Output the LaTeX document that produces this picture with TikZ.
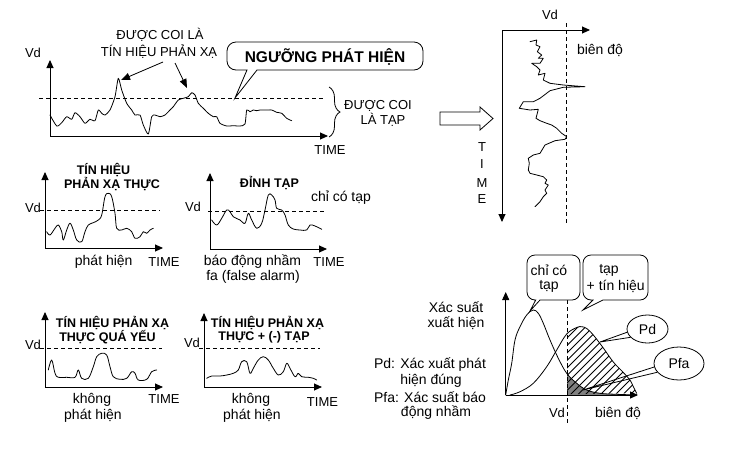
\documentclass[tikz,border=0pt]{standalone}
\usepackage{fontspec}
\setmainfont{Liberation Sans}
\usetikzlibrary{arrows.meta,shapes.geometric,decorations.pathreplacing}
\begin{document}
\begin{tikzpicture}[x=1pt,y=-1pt,
  ax/.style={line width=0.9pt,-{Triangle[length=8pt,width=7pt]}},
  thr/.style={line width=0.7pt,dash pattern=on 4pt off 3pt},
  sig/.style={line width=0.8pt,line join=round,line cap=round},
  lbl/.style={inner sep=0pt,font=\fontsize{14}{16}\selectfont},
  ulbl/.style={inner sep=0pt,font=\fontsize{13}{15}\selectfont},
  ttl/.style={inner sep=0pt,font=\bfseries\fontsize{12.5}{14}\selectfont},
  call/.style={line width=0.8pt,fill=white},
  ptr/.style={line width=0.8pt,-{Triangle[length=9pt,width=7pt]}},
  thin/.style={line width=0.8pt}]
\fill[white] (0,0) rectangle (730,456);
\useasboundingbox (0,0) rectangle (730,456);

% ---------------- top graph
\coordinate (o1) at (50,136);
\coordinate (y1) at (50,60);
\coordinate (x1) at (328,136);
\draw[ax] (o1) -- (y1);
\draw[ax] (o1) -- (x1);
\coordinate (t1a) at (39,98); \coordinate (t1b) at (324,98);
\draw[thr] (t1a) -- (t1b);
\node[ulbl] (vd1) at (33,53) {Vd};
\node[ulbl] (time1) at (330,150) {TIME};
\draw[sig] plot[smooth,tension=0.4] coordinates {(50,115) (56.7,126) (61.7,122.7) (66.7,116.7) (71.7,119.3) (75,112.7) (80,116.7) (85,123.3) (90,119.3) (95,120.7) (98.3,110) (101.7,113.3) (105,115) (110,110) (115,96.7) (118.3,78.3) (121.7,90) (126.7,103.3) (131.7,110) (135,115) (140,115) (143.3,125) (148.3,134) (151.7,116.7) (155,115) (160,116.7) (165,115) (170,110) (173.3,106.7) (178.3,100) (183.3,98.3) (188.3,96.7) (191.7,92.7) (195,95) (198.3,103.3) (203.3,108.3) (208.3,113.3) (213.3,116.7) (216.7,116.7) (220,123.3) (226.7,126) (233.3,125.7) (240,126) (245,124) (246.7,110) (250,111.7) (253.3,110) (256.7,110.7) (260,110) (265,110) (271.7,110) (276.7,112.3) (281.7,113.3) (286.7,118.3) (291.7,120.7)};
\node[ulbl] (lab1) at (160,35) {ĐƯỢC COI LÀ};
\node[ulbl] (lab2) at (159,51.7) {TÍN HIỆU PHẢN XẠ};
\coordinate (a1s) at (163,62); \coordinate (a1e) at (121,80);
\coordinate (a2s) at (175,63); \coordinate (a2e) at (187,88);
\draw[ptr] (a1s) -- (a1e);
\draw[ptr] (a2s) -- (a2e);
\coordinate (ngtip) at (235,98);
\draw[call] (257,70) [rounded corners=9pt] -- (423,70) -- (423,42) -- (227,42) -- (227,70) [sharp corners] -- (247,70) -- (ngtip) -- cycle;
\node[inner sep=0pt,font=\bfseries\fontsize{15.5}{18}\selectfont] (ngu) at (325,57) {NGƯỠNG PHÁT HIỆN};
\coordinate (br1) at (329,87); \coordinate (br2) at (329,137);
\draw[thin,decorate,decoration={brace,amplitude=11pt}] (br1) -- (br2);
\node[ulbl] (tap1) at (378,106) {ĐƯỢC COI};
\node[ulbl] (tap2) at (383,120) {LÀ TẠP};

% ---------------- hollow arrow
\draw[thin,fill=white] (440,112) -- (480,112) -- (480,107) -- (493,118.5) -- (480,130) -- (480,125) -- (440,125) -- cycle;

% ---------------- top right graph
\coordinate (o2) at (502,30);
\coordinate (y2) at (502,222);
\coordinate (x2) at (590,30);
\draw[ax] (o2) -- (y2);
\draw[ax] (o2) -- (x2);
\coordinate (t2a) at (566,23); \coordinate (t2b) at (566,223);
\draw[thr] (t2a) -- (t2b);
\node[ulbl] (vd2) at (550,15) {Vd};
\node[lbl] (bd2) at (600,50) {biên độ};
\node[ulbl] (tT) at (482,147) {T};
\node[ulbl] (tI) at (482,164) {I};
\node[ulbl] (tM) at (482,183) {M};
\node[ulbl] (tE) at (482,199) {E};
\draw[sig] plot coordinates {(530,41.7) (536.7,40) (536,45) (540,46.7) (537.3,51.7) (541.7,55) (538.3,58.3) (543.3,58.3) (540,63.3) (531.7,63.3) (536.7,66.7) (540,70) (538.3,75) (545,73.3) (543.3,80) (550,83.3) (563.3,85) (585,86.7) (563.3,87.3) (550,90.7) (540,98.3) (533.3,101.7) (523.3,101.7) (519.3,108.3) (530,110) (538.3,109.3) (536,118.3) (540,120.7) (546.7,123.3) (551.7,125) (556.7,128.3) (561.7,133.3) (566.7,136.7) (565,139.3) (555,140.7) (545,145) (540,153.3) (533.3,155) (528.3,158.3) (529.3,163.3) (528.3,170) (530,173.3) (536.7,175) (543.3,176.7) (546.7,180) (545,183.3) (548.3,185) (545,190) (546.7,193.3) (543.3,196.7) (540,201.7) (535,206.7)};

% ---------------- graph A
\coordinate (oA) at (45,248);
\draw[ax] (oA) -- (45,172);
\draw[ax] (oA) -- (163,248);
\draw[thr] (40,210) -- (160,210);
\node[ulbl] (vdA) at (33,208) {Vd};
\node[ttl] (tA1) at (103.5,170) {TÍN HIỆU};
\node[ttl] (tA2) at (112,184) {PHẢN XẠ THỰC};
\node[lbl] (lA) at (103.7,262) {phát hiện};
\node[ulbl] (timeA) at (164,262) {TIME};
\draw[sig] plot[smooth,tension=0.6] coordinates {(46.7,231.7) (50,235) (55,228.3) (58.3,225) (61.7,231.7) (63.3,240) (66.7,230) (70,223.3) (73.3,230) (76.7,240) (81.7,241.7) (85,231.7) (88.3,225) (93.3,222.7) (98.3,220) (101.7,215) (105,196.7) (108.3,193.3) (111.7,196.7) (115,213.3) (116.7,228.3) (121.7,230) (126.7,228.3) (131.7,231.7) (135,238.3) (140,236.7) (143.3,231.7) (146.7,233.3) (150,230) (153.3,228.3)};

% ---------------- graph B
\coordinate (oB) at (210,249);
\draw[ax] (oB) -- (210,173);
\draw[ax] (oB) -- (327,249);
\draw[thr] (208,211) -- (325,211);
\node[ulbl] (vdB) at (193,207) {Vd};
\node[ttl] (tB) at (269.5,183) {ĐỈNH TẠP};
\node[lbl] (cB) at (341,198) {chỉ có tạp};
\node[lbl] (lB1) at (252.5,262) {báo động nhầm};
\node[lbl] (lB2) at (253,277) {fa (false alarm)};
\node[ulbl] (timeB) at (329,262) {TIME};
\draw[sig] plot[smooth,tension=0.6] coordinates {(211.7,220) (216.7,225) (221.7,218.3) (226.7,210) (230,211.7) (233.3,216.7) (240,220) (245,223.3) (248.3,213.3) (251.7,220) (256.7,228.3) (261.7,223.3) (265,210) (268.3,195) (271.7,195) (275,200) (276.7,208.3) (281.7,210) (285,215) (288.3,225) (293.3,229) (300,230) (306.7,230) (310,225) (315,226) (321.7,229.3)};

% ---------------- graph C
\coordinate (oC) at (45,387);
\draw[ax] (oC) -- (45,312);
\draw[ax] (oC) -- (163,387);
\draw[thr] (40,348) -- (162,348);
\node[ulbl] (vdC) at (33,345) {Vd};
\node[ttl] (tC1) at (112.5,323) {TÍN HIỆU PHẢN XẠ};
\node[ttl] (tC2) at (107.5,337) {THỰC QUÁ YẾU};
\node[lbl] (lC1) at (92,400) {không};
\node[lbl] (lC2) at (93,416) {phát hiện};
\node[ulbl] (timeC) at (164,399) {TIME};
\draw[sig] plot[smooth,tension=0.6] coordinates {(48.3,370) (51.7,360) (55,373.3) (58.3,377.3) (66.7,377.3) (75,377.3) (78.3,370) (81.7,378.3) (88.3,378.3) (93.3,366.7) (96.7,356.7) (101.7,353.3) (106.7,355) (110,366.7) (113.3,376.7) (120,379.3) (126.7,378.3) (131.7,371.7) (135,373.3) (138.3,380) (146.7,379.3) (151.7,371.7) (156.7,370)};

% ---------------- graph D
\coordinate (oD) at (204,387);
\draw[ax] (oD) -- (204,313);
\draw[ax] (oD) -- (322,387);
\draw[thr] (199,348) -- (320,348);
\node[ulbl] (vdD) at (192,343) {Vd};
\node[ttl] (tD1) at (267.5,323) {TÍN HIỆU PHẢN XẠ};
\node[ttl] (tD2) at (264,337) {THỰC + (-) TẠP};
\node[lbl] (lD1) at (251,400) {không};
\node[lbl] (lD2) at (252,416) {phát hiện};
\node[ulbl] (timeD) at (322.5,401.7) {TIME};
\draw[sig] plot[smooth,tension=0.6] coordinates {(206.7,378.3) (211.7,376) (220,376) (226.7,375) (233.3,373.3) (238.3,370) (241.7,361.7) (246.7,361.7) (250,373.3) (253.3,368.3) (258.3,360) (263.3,356.7) (268.3,360) (273.3,368.3) (278.3,375) (283.3,371.7) (286.7,363.3) (290,368.3) (295,376.7) (298.3,373.3) (301.7,376.7) (308.3,377.3) (313.3,378.3) (316.7,380)};

% ---------------- probability graph
\def\noisecurve{(505.7,395) (508.3,380) (511.7,363.3) (515,340) (520,326.7) (526.7,315) (533.3,310) (538.3,313.3) (543.3,323.3) (550,340) (558.3,358.3) (566.7,373.3) (576.7,383.3) (586.7,390) (600,393.3) (616.7,394.3) (636.7,395)}
\def\sigcurve{(510,395) (520,391.7) (533.3,383.3) (546.7,366.7) (556.7,350) (566.7,334) (576.7,327.5) (581.7,326.7) (586.7,328.5) (593.3,335) (603.3,348) (613.3,362) (623.3,372.5) (630,380) (633.3,386.7) (636.7,393.3)}
\begin{scope}
  \clip (567,290) rectangle (645,395);
  \fill[black!50] plot[smooth,tension=0.6] coordinates {\noisecurve} -- cycle;
\end{scope}
\begin{scope}
  \clip (567,290) rectangle (645,395);
  \clip plot[smooth,tension=0.6] coordinates {\sigcurve} -- cycle;
  \foreach \i in {0,...,32} \draw[line width=0.8pt] ({460+7.5*\i},400) -- ++(100,-100);
\end{scope}
\coordinate (oE) at (505.7,395);
\draw[ax] (oE) -- (505.7,292);
\draw[ax] (oE) -- (638,395);
\coordinate (tEa) at (567,300); \coordinate (tEb) at (567,425);
\draw[thr] (tEa) -- (tEb);
\draw[sig] plot[smooth,tension=0.6] coordinates {\noisecurve};
\draw[sig] plot[smooth,tension=0.6] coordinates {\sigcurve};
\node[ulbl] (vdE) at (557,413) {Vd};
\node[lbl] (bdE) at (618,413) {biên độ};
\node[lbl] (xs1) at (456,307) {Xác suất};
\node[lbl] (xs2) at (456,323) {xuất hiện};
\node[lbl] (pd1) at (430,365) {Pd: Xác xuất phát};
\node[lbl] (pd2) at (431,381) {hiện đúng};
\node[lbl] (pf1) at (430,397) {Pfa: Xác suất báo};
\node[lbl] (pf2) at (436,413) {động nhầm};
% callouts
\coordinate (c1tip) at (530,311);
\draw[call] (540,300) [rounded corners=8pt] -- (580,300) -- (580,255) -- (527,255) -- (527,300) [sharp corners] -- (535.7,300) -- (c1tip) -- cycle;
\node[lbl] (c1a) at (549,270.7) {chỉ có};
\node[lbl] (c1b) at (549,286.7) {tạp};
\coordinate (c2tip) at (583,310);
\draw[call] (603,300) [rounded corners=8pt] -- (648,300) -- (648,255) -- (583,255) -- (583,300) [sharp corners] -- (593,300) -- (c2tip) -- cycle;
\node[lbl] (c2a) at (609,270.7) {tạp};
\node[lbl] (c2b) at (615.7,286.7) {+ tín hiệu};
\node[ellipse,draw,thin,fill=white,minimum width=41pt,minimum height=28pt,inner sep=0pt,font=\fontsize{14}{16}\selectfont] (pd) at (647.5,329) {Pd};
\node[ellipse,draw,thin,fill=white,minimum width=50pt,minimum height=33pt,inner sep=0pt,font=\fontsize{14}{16}\selectfont] (pfa) at (679,363.5) {Pfa};
\coordinate (pdtip) at (600,342);
\coordinate (pfatip) at (583,390);
\draw[thin] (pd.189) -- (pdtip) -- (pd.206);
\draw[thin] (pfa.188) -- (pfatip) -- (pfa.202);
\end{tikzpicture}
\end{document}
